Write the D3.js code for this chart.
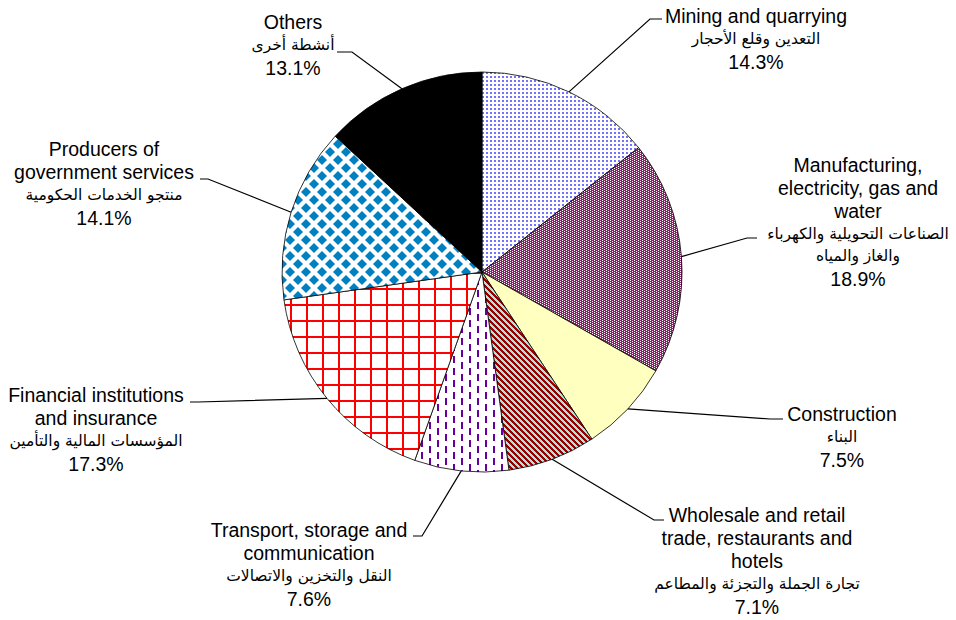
<!DOCTYPE html>
<html>
<head>
<meta charset="utf-8">
<script src="https://d3js.org/d3.v7.min.js"></script>
<style>
body { margin: 0; background: #fff; }
svg { display: block; }
.en { font-family: 'Liberation Sans', Arial, sans-serif; font-size: 19.5px; fill: #000; }
.ar { font-family: 'DejaVu Sans', sans-serif; font-size: 15.5px; fill: #000; }
pattern rect { shape-rendering: crispEdges; }
</style>
</head>
<body>
<svg width="956" height="620" id="chart"></svg>
<script>
// sector shares, clockwise from 12 o'clock
var shares = [14.3, 18.9, 7.5, 7.1, 7.6, 17.3, 14.1, 13.1];

var labelsEn = [
  ["Mining and quarrying"],
  ["Manufacturing,", "electricity, gas and", "water"],
  ["Construction"],
  ["Wholesale and retail", "trade, restaurants and", "hotels"],
  ["Transport, storage and", "communication"],
  ["Financial institutions", "and insurance"],
  ["Producers of", "government services"],
  ["Others"]
];

var labelsAr = [
  ["التعدين وقلع الأحجار"],
  ["الصناعات التحويلية والكهرباء", "والغاز والمياه"],
  ["البناء"],
  ["تجارة الجملة والتجزئة والمطاعم"],
  ["النقل والتخزين والاتصالات"],
  ["المؤسسات المالية والتأمين"],
  ["منتجو الخدمات الحكومية"],
  ["أنشطة أخرى"]
];

var fills = ["url(#pMining)", "url(#pManu)", "#ffffc0", "url(#pTrade)",
             "url(#pTrans)", "url(#pFin)", "url(#pGov)", "#000000"];

// label placement: text centre x, first baseline, elbow and end of leader
var labelLayout = [
  {cx: 756, y: 23,  elbow: [650, 19],  end: [662, 19]},
  {cx: 858, y: 172, elbow: [747, 238], end: [757, 238]},
  {cx: 842, y: 421, elbow: [770, 419], end: [783, 419]},
  {cx: 757, y: 522, elbow: [654, 520], end: [664, 520]},
  {cx: 309, y: 537, elbow: [422, 536], end: [413, 536]},
  {cx: 96,  y: 402, elbow: [198, 402], end: [190, 402]},
  {cx: 104, y: 156, elbow: [208, 179], end: [200, 179]},
  {cx: 293, y: 29,  elbow: [352, 52],  end: [337, 52]}
];

var cx = 482, cy = 272, radius = 200;

var svg = d3.select("#chart");
var defs = svg.append("defs");

function tile(id, w, h, bg) {
  var pt = defs.append("pattern").attr("id", id).attr("patternUnits", "userSpaceOnUse")
    .attr("width", w).attr("height", h);
  pt.append("rect").attr("width", w).attr("height", h).attr("fill", bg);
  return pt;
}

// --- fill patterns ---
var p = tile("pMining", 4, 4, "#fff");
p.append("rect").attr("width", 2).attr("height", 2).attr("fill", "#7272ff");

p = tile("pManu", 4, 2, "#862266");
p.append("rect").attr("x", 0).attr("y", 0).attr("width", 1).attr("height", 1).attr("fill", "#fff");
p.append("rect").attr("x", 2).attr("y", 1).attr("width", 1).attr("height", 1).attr("fill", "#fff");

// pixel diagonal stripes
p = tile("pTrade", 6, 6, "#9ee8e2");
d3.range(6).forEach(function (y) {
  d3.range(6).forEach(function (x) {
    if ((((x - y) % 6) + 6) % 6 < 3) {
      p.append("rect").attr("x", x).attr("y", y).attr("width", 1).attr("height", 1).attr("fill", "#990000");
    }
  });
});

p = tile("pTrans", 16, 12, "#fff");
p.append("rect").attr("x", 3).attr("y", 0).attr("width", 2).attr("height", 7).attr("fill", "#660099");
p.append("rect").attr("x", 11).attr("y", 6).attr("width", 2).attr("height", 6).attr("fill", "#660099");
p.append("rect").attr("x", 11).attr("y", 0).attr("width", 2).attr("height", 1).attr("fill", "#660099");

p = tile("pFin", 16, 16, "#fff");
p.append("rect").attr("width", 16).attr("height", 2).attr("fill", "#ff0000");
p.append("rect").attr("width", 2).attr("height", 16).attr("fill", "#ff0000");

p = tile("pGov", 16, 16, "#fff");
[[0, 0], [16, 0], [0, 16], [16, 16], [8, 8]].forEach(function (c) {
  var s = 5;
  p.append("path").attr("fill", "#0080c0")
    .attr("d", "M" + c[0] + "," + (c[1] - s) + "L" + (c[0] + s) + "," + c[1] +
               "L" + c[0] + "," + (c[1] + s) + "L" + (c[0] - s) + "," + c[1] + "Z");
});

// --- pie ---
var pie = d3.pie().sort(null).value(function (d) { return d; });
var arcs = pie(shares);
var arc = d3.arc().innerRadius(0).outerRadius(radius);
var edgeArc = d3.arc().innerRadius(radius).outerRadius(radius);

var g = svg.append("g").attr("transform", "translate(" + cx + "," + cy + ")");

g.selectAll("path.slice")
  .data(arcs)
  .enter().append("path")
  .attr("class", "slice")
  .attr("d", arc)
  .attr("fill", function (d, i) { return fills[i]; })
  .attr("stroke", "#000")
  .attr("stroke-width", 0.8);

// --- leader lines ---
var fmt = d3.format(".1f");

svg.selectAll("path.leader")
  .data(arcs)
  .enter().append("path")
  .attr("class", "leader")
  .attr("fill", "none")
  .attr("stroke", "#000")
  .attr("stroke-width", 1.2)
  .attr("d", function (d, i) {
    var c = edgeArc.centroid(d);
    var L = labelLayout[i];
    return d3.line()([[cx + c[0], cy + c[1]], L.elbow, L.end]);
  });

// --- labels ---
labelLayout.forEach(function (L, i) {
  var y = L.y;
  labelsEn[i].forEach(function (t, k) {
    if (k > 0) y += 23;
    svg.append("text").attr("class", "en").attr("x", L.cx).attr("y", y)
      .attr("text-anchor", "middle").text(t);
  });
  labelsAr[i].forEach(function (t, k) {
    y += (k === 0) ? 21 : 22;
    svg.append("text").attr("class", "ar").attr("x", L.cx).attr("y", y)
      .attr("text-anchor", "middle").attr("direction", "rtl").text(t);
  });
  y += 24.5;
  svg.append("text").attr("class", "en").attr("x", L.cx).attr("y", y)
    .attr("text-anchor", "middle").text(fmt(shares[i]) + "%");
});
</script>
</body>
</html>
